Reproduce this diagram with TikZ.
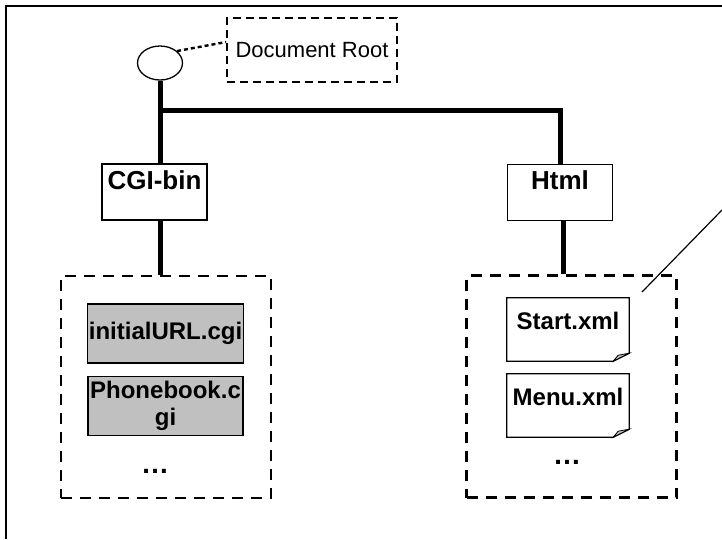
\documentclass[tikz,border=0pt]{standalone}
\usepackage{fontspec}
\setmainfont{Liberation Sans}
\usepackage{tikz}
\usetikzlibrary{shapes.geometric}
\definecolor{cgigray}{RGB}{192,192,192}
\tikzset{
  treeline/.style={line width=5pt},
  rootnode/.style={ellipse, draw, line width=1.3pt, minimum width=45pt, minimum height=34pt, inner sep=0pt},
  notebox/.style={draw, line width=1.8pt, dash pattern=on 8pt off 5pt, minimum width=170pt, minimum height=64pt, inner sep=0pt, font=\fontsize{22}{25}\selectfont},
  dirbox/.style={draw, line width=1.3pt, minimum width=105pt, minimum height=56pt, inner sep=0pt, text height=19pt, text depth=25pt, font=\fontsize{26}{30}\selectfont\bfseries},
  folder/.style={draw, line width=2.4pt, dash pattern=on 11pt off 8pt, minimum width=210pt, minimum height=222pt, inner sep=0pt},
  cgifile/.style={draw, line width=1.3pt, fill=cgigray, minimum width=155pt, minimum height=59pt, inner sep=1pt, align=center, font=\fontsize{24}{27}\selectfont\bfseries},
  xmlfile/.style={minimum width=122pt, minimum height=63pt, inner sep=0pt, text height=17pt, text depth=17pt, font=\fontsize{24}{27}\selectfont\bfseries},
  moredots/.style={inner sep=0pt, font=\fontsize{28}{30}\selectfont\bfseries}
}
\newcommand{\xmldoc}[4]{\node[xmlfile] (#1) at ( #2 , #3 ) {#4}; \draw[line width=1.3pt] (#1.north west) -- (#1.north east) -- ([yshift=8pt]#1.south east) -- ([xshift=-16pt]#1.south east) -- (#1.south west) -- cycle; \filldraw[fill=cgigray, line width=0.8pt] ([xshift=-16pt]#1.south east) -- ([yshift=8pt]#1.south east) -- ([xshift=-11pt,yshift=6pt]#1.south east) -- cycle;}

\begin{document}
\begin{tikzpicture}[x=1pt,y=-1pt]
        \useasboundingbox (0,0) rectangle (722,539);
        \draw[line width=2pt] (722,6) -- (6,6) -- (6,539);

        \node[rootnode] (root) at (160,63) {};
        \node[notebox] (rootnote) at (312,50) {Document Root};
        \draw[line width=2.4pt, dash pattern=on 4pt off 3pt] (root.35) -- ([yshift=8pt]rootnote.west);

        \node[dirbox] (cgi) at (154.5,192) {CGI-bin};
        \node[dirbox] (html) at (560,192.5) {Html};
        \coordinate (branch) at (160,110);
        \draw[treeline] (root.south) -- (root.south |- cgi.north);
        \draw[treeline] (branch) -| (html.north);

        \node[folder] (cgidir) at (166,387) {};
        \node[folder] (htmldir) at (571.5,386.5) {};
        \draw[treeline] (root.south |- cgi.south) -- (root.south |- cgidir.north);
        \draw[treeline] ([xshift=3pt]html.south) -- ([xshift=3pt]html.south |- htmldir.north);

        \node[cgifile] (initurl) at (165.5,333.5) {initialURL.cgi};
        \node[cgifile] (phonebook) at (165.5,406) {Phonebook.c\\gi};
        \node[moredots] (cgimore) at (155,471) {…};

        \xmldoc{start}{568}{329.5}{Start.xml}
        \xmldoc{menu}{568}{405.5}{Menu.xml}
        \node[moredots] (htmlmore) at (567,462) {…};

        \coordinate (notetip) at (642,292);
        \coordinate (noteend) at (722,210);
        \draw[line width=1.2pt] (notetip) -- (noteend);
\end{tikzpicture}
\end{document}
